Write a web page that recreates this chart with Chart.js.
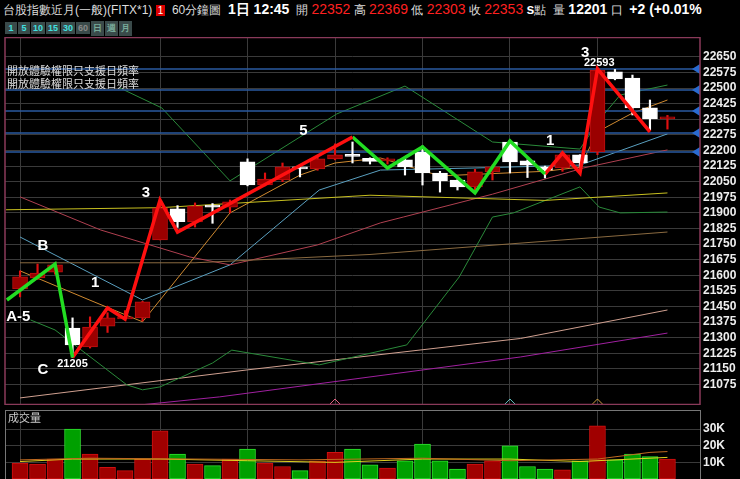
<!DOCTYPE html>
<html>
<head>
<meta charset="utf-8">
<script src="https://cdn.jsdelivr.net/npm/chart.js@4/dist/chart.umd.min.js"></script>
<style>
  body { margin: 0; background: #000; width: 740px; height: 479px; overflow: hidden; font-family: "Liberation Sans", Arial, sans-serif; }
  #head { position: absolute; left: 3px; top: 1px; color: #ddd; font-size: 12px; white-space: nowrap; }
  #head b { color: #fff; font-size: 14px; }
  #head .r { color: #ff2020; font-size: 14px; }
  #head .box { background: #d00; color: #fff; font-size: 10px; padding: 0 2px; }
  #btns { position: absolute; left: 5px; top: 17px; }
  #btns span { display: inline-block; background: #3a4a4a; color: #40e0e0; font-size: 9px; font-weight: bold; padding: 1px 2px; margin-right: 1px; min-width: 8px; text-align: center; }
  #price { position: absolute; left: 0; top: 37px; }
  #vol { position: absolute; left: 0; top: 410px; }
</style>
</head>
<body>
<div id="head">台股指數近月(一般)(FITX*1) <span class="box">1</span> &nbsp;60分鐘圖 &nbsp;<b>1日 12:45</b> &nbsp;開 <span class="r">22352</span> 高 <span class="r">22369</span> 低 <span class="r">22303</span> 收 <span class="r">22353</span> <b>s</b>點 &nbsp;量 <b>12201</b> 口 &nbsp;<b>+2 (+0.01%</b></div>
<div id="btns"><span>1</span><span>5</span><span>10</span><span>15</span><span>30</span><span style="color:#888">60</span><span style="color:#7a9">日</span><span style="color:#7a9">週</span><span style="color:#7a9">月</span></div>
<canvas id="price" width="740" height="368"></canvas>
<canvas id="vol" width="740" height="69"></canvas>
<script>
// candles, one per hour
const opens  = [21534,21587,21615,21346,21255,21355,21390,21395,21770,21920,21856,21938,21928,22145,22034,22058,22121,22112,22160,22176,22162,22150,22155,22193,22092,22058,22025,22097,22241,22150,22121,22116,22179,22193,22578,22549,22405,22352];
const highs  = [21621,21654,21655,21395,21400,21420,21430,21475,21962,21935,21948,21945,21962,22160,22092,22140,22125,22175,22232,22241,22165,22165,22160,22222,22100,22060,22110,22130,22250,22155,22125,22188,22180,22593,22590,22563,22443,22369];
const lows   = [21496,21580,21605,21205,21250,21325,21385,21380,21770,21830,21832,21850,21900,22030,22030,22050,22073,22105,22155,22140,22135,22135,22082,22034,22000,22010,21996,22058,22092,22070,22068,22100,22092,22180,22540,22371,22299,22303];
const closes = [21592,21611,21650,21265,21351,21395,21393,21472,21924,21858,21933,21928,21953,22034,22063,22121,22112,22160,22179,22172,22148,22158,22121,22092,22054,22025,22097,22121,22145,22130,22106,22179,22140,22587,22544,22405,22352,22353];
const volumes = [9.5,9,12,30,15,7,5,12,29,15,9,8,12,18,9.5,7.5,5,11,16,18,8.5,6.5,11,21,11,6,9,11,20,7.5,6,5.5,11,32,11.5,15,13.5,12];
const yTicks = [21075,21150,21225,21300,21375,21450,21525,21600,21675,21750,21825,21900,21975,22050,22125,22200,22275,22350,22425,22500,22575,22650];
const dayLines = [0,8,13,18,23,28,33];
const levelLines = [22592,22491,22390,22284,22193];

// wave lines
const wave1 = [[-0.75,21481],[2,21654],[3,21205]];
const wave2 = [[3,21205],[5,21443],[6,21390],[8,21962],[9,21808],[19,22265]];
const wave3 = [[19,22265],[21,22116],[23,22217],[26,21996],[28,22246],[30,22087]];
const wave4 = [[30,22087],[31,22188],[32,22092],[33,22593],[36,22290]];

// moving averages
const maYellow = [[-0.8,21915],[8,21925],[20,21985],[30,21960],[37,21996]];
const maBrown  = [[0,21660],[10,21660],[20,21700],[37,21808]];
const maPink   = [[0,21977],[4.6,21818],[9.7,21688],[12,21650],[17,21746],[20.6,21852],[21.9,21880],[27,21990],[32.2,22116],[37,22203]];
const maBlue   = [[0,21784],[7,21481],[12,21650],[17.1,22010],[20.6,22106],[26,22116],[32,22130],[37,22280]];
const maOrange = [[0,21621],[4,21480],[7,21376],[12,21900],[16,22082],[18,22140],[20.6,22164],[24,22078],[30,22100],[32,22120],[33,22290],[35,22380],[37,22443]];
const maGreenHi = [[5.7,22501],[8.1,22405],[12,22054],[18.1,22376],[22,22510],[27,22241],[32,22207],[33.1,22347],[34.3,22467],[37,22515]];
const maGreenLo = [[0.6,21385],[2,21337],[6.1,21073],[7,21049],[8,21063],[11,21178],[12.1,21240],[17.1,21169],[22.1,21265],[25.1,21592],[27,21880],[28.2,21900],[32,22025],[33.1,21928],[34.3,21900],[37,21904]];
const maPeach  = [[0,21010],[13,21145],[28.6,21296],[37,21433]];
const maMagenta = [[4.6,20957],[11.4,21015],[28.6,21207],[37,21322]];
const volYellow = [[0,10.5],[3,12],[8,12],[13,11],[18,10],[23,12],[28,12],[32,10.5],[37,13]];
const volOrange = [[0,11.5],[4,12.5],[10,12],[16,11.5],[23,12.5],[28,11],[33,12],[36,16],[37,16.5]];

const idx = opens.map((_, i) => i);
const isUp = idx.map(i => closes[i] >= opens[i]);
const pts = a => a.map(p => ({x: p[0], y: p[1]}));
const xMin = -0.86, xMax = 38.86;

function line(data, color, w) {
  return { type: 'line', data: pts(data), borderColor: color, borderWidth: w || 1, pointRadius: 0, tension: 0, order: 0 };
}

function makeX() {
  return {
    type: 'linear', min: xMin, max: xMax, offset: false,
    afterBuildTicks: s => { s.ticks = dayLines.map(v => ({value: v})); },
    afterFit: s => { s.height = 0; s.paddingLeft = 0; s.paddingRight = 0; },
    ticks: { display: false },
    grid: { color: '#3a3a3a', drawTicks: false, offset: false },
    border: { display: false }
  };
}
function makeY(min, max, ticks, cb) {
  return {
    position: 'right', min: min, max: max,
    afterBuildTicks: s => { s.ticks = ticks.map(v => ({value: v})); },
    afterFit: s => { s.width = 40; s.paddingTop = 0; s.paddingBottom = 0; },
    ticks: { color: '#eee', autoSkip: false, font: { family: "'Liberation Sans', Arial", size: 12, weight: 'bold' }, padding: 3, callback: cb },
    grid: { color: '#3a3a3a', drawTicks: false },
    border: { display: false }
  };
}

const overlay = {
  id: 'overlay',
  afterDatasetsDraw(chart) {
    const ctx = chart.ctx, x = chart.scales.x, y = chart.scales.y, a = chart.chartArea;
    ctx.fillStyle = '#2a6ad0';
    levelLines.forEach(v => {
      const py = y.getPixelForValue(v);
      ctx.beginPath(); ctx.moveTo(a.right - 8, py); ctx.lineTo(a.right, py - 5); ctx.lineTo(a.right, py + 5); ctx.fill();
    });
    ctx.font = "11px 'Noto Sans CJK TC'";
    ctx.fillStyle = '#ddd';
    ctx.textBaseline = 'middle';
    ctx.fillText('開放體驗權限只支援日頻率', 7, y.getPixelForValue(levelLines[0]) + 2);
    ctx.fillText('開放體驗權限只支援日頻率', 7, y.getPixelForValue(22520));
    ctx.font = "bold 15px 'Liberation Sans', Arial";
    ctx.fillStyle = '#fff';
    ctx.textAlign = 'center';
    const t = (s, i, v) => ctx.fillText(s, x.getPixelForValue(i), y.getPixelForValue(v));
    t('A-5', -0.1, 21400); t('B', 1.3, 21741); t('1', 4.3, 21565); t('C', 1.3, 21145);
    t('3', 7.2, 21995); t('5', 16.2, 22295); t('1', 30.3, 22245); t('3', 32.3, 22670);
    ctx.font = "bold 11px 'Liberation Sans', Arial";
    t('21205', 3.0, 21175); t('22593', 33.1, 22623);
    [[18,'#e06080'],[28,'#60c0c0'],[33,'#d0a040']].forEach(c => {
      const px = x.getPixelForValue(c[0]);
      ctx.strokeStyle = c[1]; ctx.lineWidth = 1;
      ctx.beginPath(); ctx.moveTo(px - 5, a.bottom - 1); ctx.lineTo(px, a.bottom - 6); ctx.lineTo(px + 5, a.bottom - 1); ctx.stroke();
    });
    ctx.strokeStyle = '#8a3a5a'; ctx.lineWidth = 1.5;
    ctx.strokeRect(a.left, a.top + 0.5, a.right - a.left, a.bottom - a.top - 1);
  }
};

new Chart(document.getElementById('price'), {
  data: {
    datasets: [
      ...levelLines.map(v => line([[xMin, v], [xMax, v]], '#2a5aa0', 1.5)),
      line(maYellow, '#c8c020'), line(maBrown, '#8a6a40'), line(maPink, '#b04050'),
      line(maBlue, '#5aa0c0'), line(maOrange, '#d08a30'), line(maGreenHi, '#2a8a3a'),
      line(maGreenLo, '#2a8a3a'), line(maPeach, '#d0a090'), line(maMagenta, '#a020a0'),
      { type: 'bar', data: idx.map(i => ({x: i, y: [lows[i], highs[i]]})), barThickness: 1.5, grouped: false,
        backgroundColor: isUp.map(u => u ? '#e01010' : '#ffffff'), order: -1 },
      { type: 'bar', data: idx.map(i => ({x: i, y: [opens[i], closes[i]]})), barThickness: 15, grouped: false, minBarLength: 2,
        backgroundColor: isUp.map(u => u ? '#9a0000' : '#ffffff'), borderColor: isUp.map(u => u ? '#c01010' : '#ffffff'),
        borderWidth: 1, borderSkipped: false, order: -2 },
      { ...line(wave1, '#22dd22', 3.5), order: -3 },
      { ...line(wave2, '#ff1010', 3.5), order: -3 },
      { ...line(wave3, '#22dd22', 3.5), order: -3 },
      { ...line(wave4, '#ff1010', 3.5), order: -3 }
    ]
  },
  options: {
    responsive: false, animation: false, devicePixelRatio: 1,
    layout: { padding: { left: 5, top: 0, bottom: 0, right: 0 } },
    plugins: { legend: { display: false }, tooltip: { enabled: false } },
    scales: { x: makeX(), y: makeY(20976, 22746, yTicks) }
  },
  plugins: [overlay]
});

new Chart(document.getElementById('vol'), {
  data: {
    datasets: [
      { type: 'line', data: pts(volOrange), borderColor: '#c06a20', borderWidth: 1, pointRadius: 0, order: 0 },
      { type: 'line', data: pts(volYellow), borderColor: '#e0d020', borderWidth: 1, pointRadius: 0, order: 0 },
      { type: 'bar', data: idx.map(i => ({x: i, y: volumes[i]})), barThickness: 16, grouped: false,
        backgroundColor: isUp.map(u => u ? '#a00000' : '#00a000'), borderColor: isUp.map(u => u ? '#d01010' : '#30e030'),
        borderWidth: 1, borderSkipped: false, order: 1 }
    ]
  },
  options: {
    responsive: false, animation: false, devicePixelRatio: 1,
    layout: { padding: { left: 5, top: 0, bottom: 0, right: 0 } },
    plugins: { legend: { display: false }, tooltip: { enabled: false } },
    scales: { x: makeX(), y: makeY(0, 41.5, [10, 20, 30], v => v + 'K') }
  },
  plugins: [{
    id: 'volBox',
    afterDraw(chart) {
      const ctx = chart.ctx, a = chart.chartArea;
      ctx.font = "11px 'Noto Sans CJK TC'"; ctx.fillStyle = '#ccc'; ctx.textBaseline = 'top';
      ctx.fillText('成交量', a.left + 3, a.top + 2);
      ctx.strokeStyle = '#777'; ctx.lineWidth = 1;
      ctx.strokeRect(a.left + 0.5, a.top + 0.5, a.right - a.left, a.bottom - a.top + 2);
    }
  }]
});
</script>
</body>
</html>
